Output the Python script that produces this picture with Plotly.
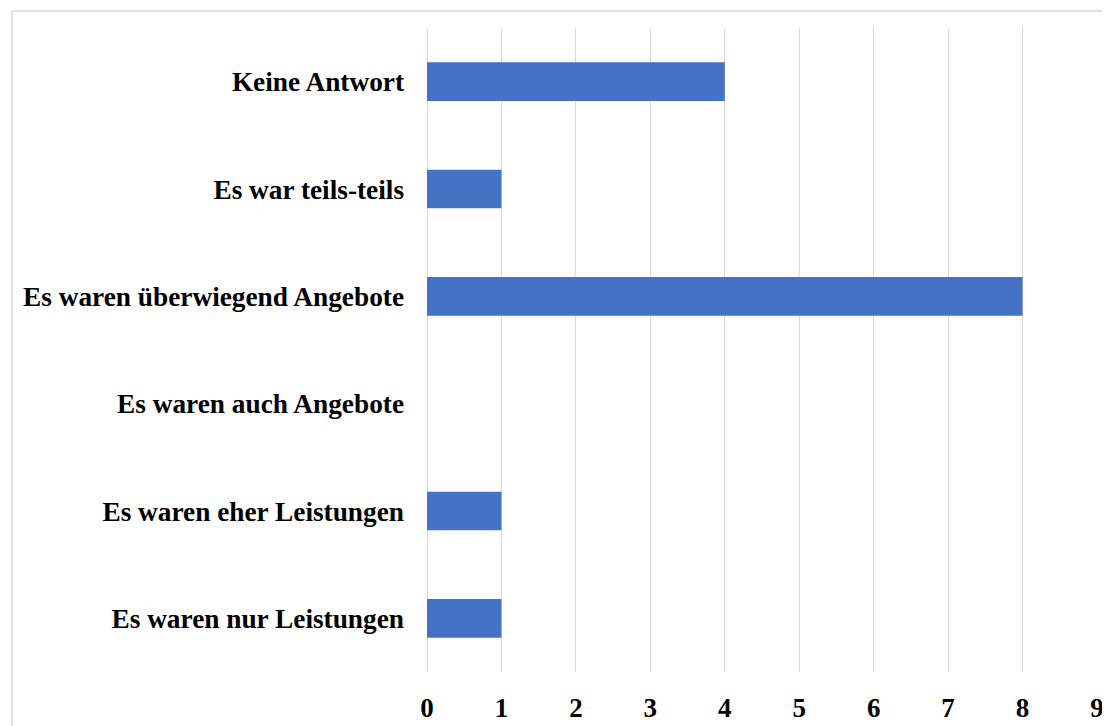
import plotly.graph_objects as go

categories = [
    "Es waren nur Leistungen",
    "Es waren eher Leistungen",
    "Es waren auch Angebote",
    "Es waren überwiegend Angebote",
    "Es war teils-teils",
    "Keine Antwort",
]
values = [1, 1, 0, 8, 1, 4]
x_ticks = [0, 1, 2, 3, 4, 5, 6, 7, 8, 9]

FONT = "Liberation Serif, Times New Roman, serif"

fig = go.Figure(
    go.Bar(
        x=values,
        y=categories,
        orientation="h",
        width=0.36,
        marker=dict(color="#4472C4", line=dict(width=0)),
    )
)

# page body adds an 8px offset; compensate
OFF = 8
W, H = 1110, 726
ml, mr, mt, mb = 427 - OFF, 13 + OFF, 28 - OFF, 54 + OFF
pw = W - ml - mr
ph = H - mt - mb

def px_to_paper_x(px):
    return (px - OFF - ml) / pw

def px_to_paper_y(py):
    return (H - mb - (py - OFF)) / ph

fx = px_to_paper_x(12)
fy = px_to_paper_y(11)

fig.update_layout(
    width=W,
    height=H,
    margin=dict(l=ml, r=mr, t=mt, b=mb),
    paper_bgcolor="white",
    plot_bgcolor="white",
    showlegend=False,
    font=dict(family=FONT, color="black"),
    xaxis=dict(
        range=[0, 9],
        tickvals=x_ticks,
        showgrid=True,
        gridcolor="#d9d9d9",
        gridwidth=1,
        zeroline=True,
        zerolinecolor="#d9d9d9",
        zerolinewidth=1,
        showline=False,
        ticks="",
        tickfont=dict(family=FONT, size=27, color="black", weight="bold"),
        ticklabelstandoff=17,
        fixedrange=True,
    ),
    yaxis=dict(
        categoryorder="array",
        categoryarray=categories,
        range=[-0.5, 5.5],
        showgrid=False,
        zeroline=False,
        showline=False,
        ticks="",
        tickfont=dict(family=FONT, size=27.3, color="black", weight="bold"),
        ticklabelstandoff=22,
        fixedrange=True,
    ),
    shapes=[
        dict(type="line", xref="paper", yref="paper", x0=fx, x1=1.2, y0=fy, y1=fy,
             line=dict(color="#d9d9d9", width=1.5)),
        dict(type="line", xref="paper", yref="paper", x0=fx, x1=fx, y0=fy, y1=-0.3,
             line=dict(color="#d9d9d9", width=1.5)),
    ],
)

fig.write_html("out.html")
